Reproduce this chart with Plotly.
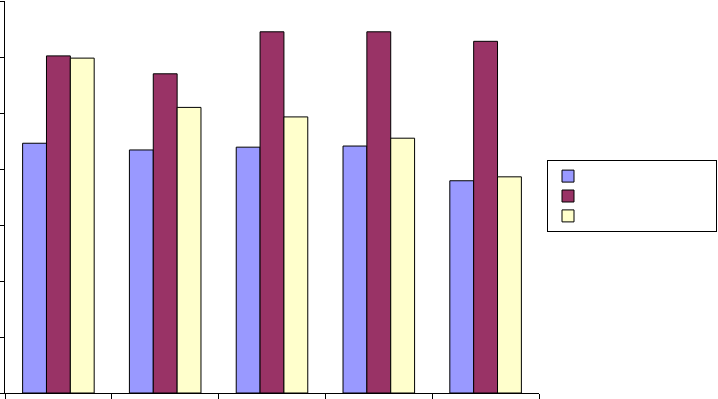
import plotly.graph_objects as go

categories = ["1", "2", "3", "4", "5"]
series_names = ["\u00a0" * 34, "\u00a0" * 34 + "\u200b", "\u00a0" * 34 + "\u200b\u200b"]
series_a = [4.46, 4.34, 4.39, 4.41, 3.79]
series_b = [6.02, 5.70, 6.45, 6.45, 6.28]
series_c = [5.98, 5.10, 4.93, 4.55, 3.86]
colors = ["#9999FF", "#993366", "#FFFFCC"]

fig = go.Figure()
for name, vals, col in zip(series_names, [series_a, series_b, series_c], colors):
    fig.add_trace(go.Bar(x=categories, y=vals, name=name,
                         marker=dict(color=col, line=dict(color="black", width=1))))

fig.update_layout(
    width=718, height=399,
    margin=dict(l=5, r=179, t=1, b=6, autoexpand=False),
    paper_bgcolor="white", plot_bgcolor="white",
    barmode="group", bargap=0.33, bargroupgap=0,
    showlegend=True,
    legend=dict(x=1.015, y=0.594, xanchor="left", yanchor="top",
                bordercolor="black", borderwidth=1, bgcolor="white",
                font=dict(family="Liberation Sans, Arial", size=13, color="black"),
                itemwidth=30),
    xaxis=dict(type="category", showline=True, linecolor="black", linewidth=1,
               ticks="outside", tickson="boundaries", ticklen=5, tickcolor="black",
               showticklabels=False, showgrid=False, zeroline=False, automargin=False),
    yaxis=dict(range=[0, 7], dtick=1, showline=True, linecolor="black", linewidth=1,
               ticks="outside", ticklen=5, tickcolor="black",
               showticklabels=False, showgrid=False, zeroline=False, automargin=False),
)

fig.write_html("out.html", config={"displayModeBar": False},
               post_script="document.body.style.margin='0';")
